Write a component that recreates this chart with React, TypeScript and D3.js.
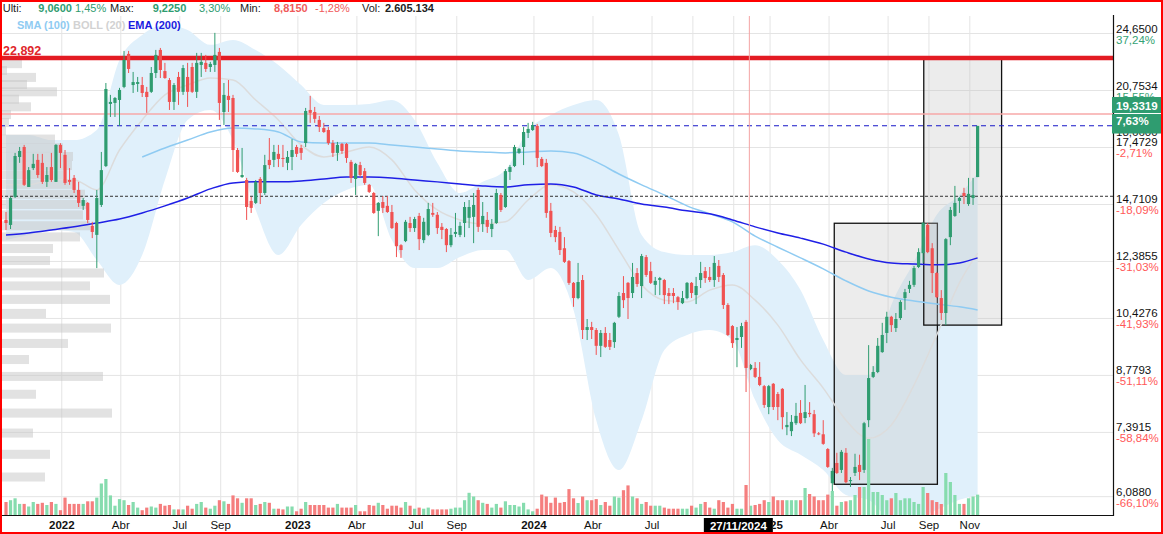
import React, { useEffect, useRef } from 'react';
import * as d3 from 'd3';

const W = 1163;
const H = 534;
const FONT = '"Liberation Sans", Arial, Helvetica, sans-serif';

// weekly bars, first bar = week of 11 Oct 2021
const firstWeek = new Date(2021, 9, 11);

// [open, high, low, close]
const ohlc: [number, number, number, number][] = [
  [14.04, 14.38, 13.62, 13.91], [13.83, 15.05, 13.66, 15.0], [15.05, 17.19, 15.0, 17.03], [16.98, 17.5, 16.68, 17.29],
  [17.5, 17.61, 15.56, 15.61], [15.51, 16.47, 15.51, 16.32], [16.42, 17.14, 16.32, 16.63], [16.83, 17.14, 15.94, 16.08],
  [16.68, 17.14, 15.65, 15.75], [15.75, 16.47, 15.51, 16.08], [16.47, 17.19, 15.75, 15.84], [15.75, 17.65, 15.75, 17.61],
  [17.61, 17.7, 16.42, 17.19], [17.09, 17.34, 15.61, 15.7], [15.84, 16.42, 15.61, 15.75], [15.94, 16.08, 15.23, 15.37],
  [15.37, 15.75, 14.6, 14.78], [14.65, 15.0, 14.47, 14.91], [14.78, 14.82, 13.91, 14.04], [13.79, 13.96, 13.29, 13.54],
  [13.42, 15.37, 12.14, 15.0], [14.69, 17.24, 14.6, 16.32], [16.52, 21.23, 16.47, 20.85], [19.93, 20.48, 19.16, 20.05],
  [19.99, 20.35, 19.16, 20.29], [20.17, 20.92, 18.65, 20.79], [20.98, 23.39, 20.9, 22.76], [23.18, 23.39, 21.88, 22.15],
  [21.1, 21.95, 20.6, 21.29], [21.17, 21.62, 20.67, 21.29], [21.1, 21.62, 20.35, 20.6], [20.67, 20.98, 19.4, 20.35],
  [20.67, 22.28, 20.6, 21.88], [21.88, 23.46, 21.55, 23.11], [23.46, 23.6, 21.55, 22.08], [22.01, 22.56, 21.5, 21.55],
  [21.42, 21.55, 19.57, 20.05], [20.05, 21.23, 19.57, 21.1], [21.62, 21.95, 19.87, 20.67], [20.67, 22.42, 20.48, 22.21],
  [21.62, 22.56, 19.75, 20.67], [22.28, 22.56, 20.6, 20.67], [20.67, 23.25, 20.29, 22.56], [22.42, 23.25, 21.62, 22.63],
  [22.56, 23.11, 21.95, 22.15], [22.28, 22.63, 21.95, 22.49], [22.42, 24.7, 21.95, 23.11], [23.32, 23.6, 18.99, 19.99],
  [19.45, 21.23, 18.7, 20.48], [20.42, 21.42, 19.45, 20.17], [20.29, 20.48, 16.23, 17.34], [17.34, 17.45, 16.18, 16.23],
  [15.98, 17.45, 15.94, 16.08], [15.84, 15.94, 14.04, 14.6], [14.87, 15.05, 14.34, 14.56], [14.78, 15.84, 14.73, 15.75],
  [15.89, 15.98, 14.73, 15.23], [15.23, 17.09, 15.14, 16.57], [16.83, 17.98, 16.37, 16.57], [16.83, 17.61, 16.47, 17.24],
  [17.14, 17.61, 16.47, 16.88], [16.93, 17.61, 16.47, 16.88], [16.68, 17.29, 16.32, 16.98], [16.98, 17.92, 16.32, 17.34],
  [17.5, 17.61, 16.98, 17.14], [17.45, 17.61, 16.83, 17.19], [17.71, 19.69, 17.5, 19.51], [19.57, 20.42, 18.82, 19.4],
  [19.45, 19.75, 18.82, 19.05], [18.99, 19.22, 18.31, 18.59], [18.53, 18.82, 18.26, 18.31], [18.42, 18.59, 17.61, 17.71],
  [17.71, 17.87, 16.98, 17.19], [17.19, 17.77, 16.78, 17.61], [17.66, 17.71, 17.14, 17.29], [17.66, 17.71, 16.68, 16.93],
  [16.73, 16.83, 15.7, 15.94], [15.89, 16.68, 15.14, 16.63], [16.57, 16.73, 15.98, 16.08], [16.27, 16.42, 15.61, 15.7],
  [15.61, 15.65, 15.23, 15.28], [15.23, 15.28, 14.3, 14.34], [14.43, 14.82, 13.37, 14.78], [14.82, 15.09, 14.34, 14.56],
  [14.65, 15.09, 14.34, 14.38], [14.38, 14.69, 13.66, 13.7], [13.91, 13.96, 12.55, 12.97], [13.01, 13.05, 12.52, 12.82],
  [13.17, 14.04, 13.13, 13.96], [13.91, 14.17, 13.54, 13.7], [13.7, 14.17, 13.54, 14.08], [14.21, 14.34, 12.82, 13.25],
  [13.21, 14.13, 13.09, 13.96], [13.42, 14.78, 13.37, 14.51], [14.34, 14.78, 14.17, 14.26], [14.26, 14.38, 13.46, 13.7],
  [13.75, 13.91, 13.25, 13.62], [13.66, 13.7, 12.74, 13.01], [13.01, 13.7, 12.93, 13.42], [13.46, 14.34, 13.33, 13.54],
  [13.42, 13.96, 13.33, 13.79], [13.91, 14.82, 13.33, 14.6], [14.13, 14.91, 13.7, 14.6], [14.17, 15.23, 13.09, 14.69],
  [15.37, 15.47, 13.54, 13.75], [13.87, 14.82, 13.54, 14.21], [14.04, 14.38, 13.5, 13.75], [13.66, 14.08, 13.33, 13.87],
  [13.91, 15.42, 13.87, 15.23], [15.14, 15.23, 14.38, 14.47], [14.6, 16.37, 14.56, 16.27], [16.23, 16.57, 15.84, 16.47],
  [16.52, 17.61, 16.47, 17.5], [17.19, 17.45, 17.14, 17.4], [17.5, 18.59, 16.57, 18.31], [18.26, 18.82, 17.98, 18.48],
  [18.42, 18.88, 18.37, 18.7], [18.65, 18.76, 16.47, 16.93], [16.88, 16.98, 16.47, 16.52], [16.68, 16.88, 14.13, 14.34],
  [14.43, 14.78, 13.33, 13.5], [13.62, 13.79, 13.13, 13.33], [13.54, 13.75, 12.63, 12.82], [12.89, 13.33, 12.33, 12.37],
  [12.4, 12.44, 11.54, 11.61], [11.61, 11.64, 10.8, 11.09], [11.09, 12.33, 11.05, 11.64], [11.71, 11.89, 9.8, 10.07],
  [10.07, 10.41, 9.77, 10.16], [10.16, 10.32, 9.8, 10.07], [10.07, 10.13, 9.34, 9.6], [9.6, 10.07, 9.28, 9.98],
  [9.98, 10.16, 9.54, 9.57], [9.77, 9.98, 9.48, 9.57], [9.71, 10.32, 9.54, 10.29], [10.48, 11.29, 10.44, 11.16],
  [11.26, 11.85, 10.76, 11.02], [11.61, 11.64, 10.41, 11.09], [11.26, 12.33, 11.09, 11.82], [11.96, 12.14, 11.47, 11.57],
  [11.5, 12.67, 11.09, 12.59], [12.55, 12.63, 11.82, 11.89], [12.03, 12.37, 11.57, 11.61], [11.54, 11.82, 11.19, 11.68],
  [11.71, 11.82, 11.19, 11.78], [11.71, 11.75, 10.89, 11.19], [11.26, 11.43, 10.89, 11.16], [11.26, 11.43, 10.92, 11.16],
  [11.12, 11.16, 10.7, 10.96], [10.92, 11.33, 10.89, 11.09], [11.09, 11.64, 11.05, 11.61], [11.61, 11.64, 11.09, 11.26],
  [11.19, 11.82, 10.89, 11.5], [11.71, 12.37, 11.43, 11.96], [12.03, 12.18, 11.61, 11.78], [11.82, 12.18, 11.64, 11.71],
  [11.71, 12.59, 11.47, 12.33], [12.22, 12.44, 11.64, 11.82], [11.89, 11.96, 10.73, 10.86], [10.86, 10.92, 9.89, 9.92],
  [10.19, 10.22, 9.54, 9.68], [9.77, 10.16, 9.0, 9.83], [9.86, 10.29, 9.54, 10.19], [10.32, 10.38, 8.35, 8.98],
  [8.95, 9.09, 8.92, 9.06], [8.98, 9.14, 8.71, 8.74], [8.74, 9.14, 8.5, 8.53], [8.5, 8.53, 7.96, 8.03],
  [7.98, 8.53, 7.81, 8.5], [8.56, 8.58, 7.91, 7.98], [8.3, 8.35, 7.67, 7.98], [8.43, 8.45, 7.46, 7.74],
  [7.51, 7.86, 7.33, 7.56], [7.42, 7.79, 7.31, 7.63], [7.6, 8.08, 7.56, 7.77], [7.84, 8.15, 7.58, 7.6],
  [7.72, 8.53, 7.6, 7.86], [7.84, 8.1, 7.74, 7.81], [7.81, 7.91, 7.29, 7.37], [7.37, 7.4, 7.33, 7.35],
  [7.35, 7.67, 7.12, 7.14], [7.03, 7.05, 6.64, 6.66], [6.34, 6.64, 6.12, 6.58], [6.74, 6.95, 6.52, 6.54],
  [6.6, 7.01, 6.54, 6.97], [6.95, 7.05, 6.34, 6.36], [6.38, 6.46, 6.27, 6.4], [6.54, 6.93, 6.48, 6.66],
  [6.7, 6.91, 6.4, 6.56], [6.6, 7.63, 6.54, 7.6], [7.67, 9.62, 7.51, 8.71], [8.74, 9.03, 8.71, 8.87],
  [8.87, 9.83, 8.84, 9.6], [9.42, 10.29, 9.4, 9.92], [9.98, 10.64, 9.68, 10.48], [10.48, 10.51, 10.01, 10.22],
  [10.13, 10.6, 10.01, 10.41], [10.44, 11.02, 10.38, 10.96], [11.09, 11.4, 10.7, 11.29], [11.4, 11.68, 11.26, 11.54],
  [11.54, 12.22, 11.47, 12.14], [12.18, 12.89, 12.14, 12.74], [12.7, 13.96, 12.33, 13.91], [13.83, 13.91, 12.7, 12.74],
  [12.89, 13.09, 11.26, 11.96], [11.96, 12.0, 11.09, 11.12], [11.09, 11.36, 10.38, 10.6], [10.6, 13.29, 10.22, 13.25],
  [13.33, 14.6, 13.01, 14.47], [14.21, 15.56, 14.17, 14.78], [14.87, 15.05, 14.34, 15.0], [15.23, 15.47, 14.73, 15.09],
  [14.73, 15.94, 14.65, 15.19], [15.0, 15.94, 14.69, 15.14], [15.98, 18.65, 15.98, 18.65],
];

// weekly volume, thousands
const volume: number[] = [
  1664, 1894, 2138, 1421, 1421, 1088, 1664, 1421, 1562, 1280, 1664, 1421, 614, 2227, 1421, 1421,
  1421, 1421, 1754, 1754, 2227, 4032, 4608, 2509, 1190, 2035, 1894, 1280, 1664, 947, 614, 947,
  1088, 947, 1421, 1190, 1280, 717, 717, 717, 1190, 806, 1421, 1664, 947, 806, 1190, 1894,
  1754, 1421, 2509, 2138, 1562, 2138, 2138, 1280, 1421, 1664, 1562, 806, 806, 717, 1088, 1088,
  474, 806, 1664, 1280, 1280, 1280, 1280, 947, 947, 1421, 947, 947, 947, 1280, 474, 474,
  1280, 1190, 1562, 1280, 806, 1190, 1190, 947, 1664, 1190, 806, 947, 806, 947, 717, 717,
  717, 717, 806, 947, 947, 1894, 2842, 2368, 1894, 1562, 1421, 947, 1421, 947, 1754, 1280,
  1280, 1088, 1562, 717, 474, 806, 2611, 2368, 1562, 2227, 1562, 1664, 3315, 2138, 1536, 2368,
  1894, 1894, 2035, 1280, 1664, 1190, 2368, 2227, 3174, 3789, 2368, 2138, 1421, 1664, 1190, 1190,
  1190, 947, 806, 806, 806, 806, 806, 1190, 947, 1421, 1664, 947, 806, 1894, 1664, 947,
  1421, 806, 806, 3840, 1190, 1280, 1421, 1894, 1664, 2368, 1894, 1894, 1894, 1894, 1894, 1894,
  3456, 2688, 2368, 1894, 1894, 2611, 3072, 1190, 1664, 1754, 1894, 2560, 3584, 3584, 9728, 2944,
  2944, 2560, 1894, 2138, 2816, 1894, 2138, 2138, 1664, 1421, 3584, 2816, 1894, 1664, 1408, 5376,
  4224, 2560, 1421, 1421, 2138, 2368, 2605,
];

// indicator samples (bar index -> value)
const lineIdx = [0, 5, 10, 15, 20, 25, 30, 35, 40, 45, 50, 55, 60, 65, 70, 75, 80, 85, 90, 95, 100, 105,
  110, 115, 120, 125, 130, 135, 140, 145, 150, 155, 160, 165, 170, 175, 180, 185, 190, 195, 200, 205, 210, 214];
const bollUpper = [18.15, 18.15, 17.87, 17.87, 18.42, 22.76, 24.55, 25.29, 24.92, 23.82, 24.18, 23.46, 22.42, 21.1,
  19.87, 19.87, 19.93, 20.17, 18.99, 16.68, 15.23, 15.75, 16.32, 18.42, 19.28, 19.87, 20.17, 18.15, 13.42, 12.74,
  12.63, 12.63, 12.74, 13.01, 12.44, 11.36, 9.77, 8.79, 8.79, 10.86, 12.37, 14.26, 15.14, 16.18];
const bollLower = [13.21, 13.42, 13.62, 13.54, 12.44, 11.54, 12.63, 15.84, 18.99, 19.57, 17.87, 14.47, 12.63, 13.83,
  14.78, 15.37, 15.61, 13.21, 12.14, 12.14, 12.55, 12.82, 12.82, 11.71, 12.14, 10.7, 7.67, 6.6, 7.67, 9.48,
  9.92, 10.07, 9.77, 8.15, 7.22, 6.91, 6.6, 6.12, 6.03, 5.7, 5.7, 5.85, 6.03, 6.12];
const bollMid = [15.61, 15.61, 15.84, 15.84, 15.37, 17.34, 18.99, 20.48, 21.1, 21.55, 21.42, 20.17, 18.99, 17.61,
  16.98, 17.24, 17.5, 16.83, 15.37, 14.47, 14.04, 13.87, 13.96, 14.91, 15.61, 15.28, 14.26, 12.82, 11.54, 11.02,
  10.96, 11.36, 11.54, 11.02, 10.22, 9.2, 8.45, 7.67, 7.26, 7.56, 8.53, 9.92, 11.61, 12.7];
const ema200 = [13.42, 13.5, 13.62, 13.75, 13.91, 14.08, 14.34, 14.65, 15.0, 15.42, 15.7, 15.75, 15.75, 15.79,
  15.89, 15.98, 15.98, 15.94, 15.84, 15.75, 15.65, 15.56, 15.51, 15.61, 15.65, 15.51, 15.14, 14.96, 14.73, 14.6,
  14.43, 14.3, 14.04, 13.75, 13.5, 13.29, 13.05, 12.74, 12.48, 12.33, 12.29, 12.26, 12.33, 12.52];
const smaIdx = lineIdx.slice(6);
const sma100 = [16.98, 17.45, 17.87, 18.31, 18.53, 18.48, 18.31, 17.77, 17.71, 17.71, 17.71, 17.61, 17.5, 17.4,
  17.29, 17.24, 17.19, 17.24, 17.29, 17.19, 16.73, 16.13, 15.61, 15.14, 14.65, 14.3, 13.96, 13.37, 12.93, 12.52,
  12.11, 11.68, 11.33, 11.12, 10.99, 10.89, 10.8, 10.7];

// volume at price profile (bucket price from 6.46, step 0.4585)
const profileBase = 6.46;
const profileStep = 0.4585;
const profileVol = [45, 50, 33, 112, 36, 103, 29, 68, 111, 46, 110, 90, 104, 50, 53, 80, 90, 83, 87, 85, 73,
  63, 72, 73, 63, 55, 6, 9, 11, 31, 19, 57, 27, 36, 7, 22];

const yTicks = [24.65, 20.7534, 17.4729, 14.7109, 12.3855, 10.4276, 8.7793, 7.3915, 6.088];
const yTickText = ['24,6500', '20,7534', '17,4729', '14,7109', '12,3855', '10,4276', '8,7793', '7,3915', '6,0880'];
const yTickPct = ['37,24%', '15,55%', '-2,71%', '-18,09%', '-31,03%', '-41,93%', '-51,11%', '-58,84%', '-66,10%'];

const xTickDates = ['2022-01-03', '2022-04-04', '2022-07-04', '2022-09-05', '2023-01-02', '2023-04-03', '2023-07-03',
  '2023-09-04', '2024-01-01', '2024-04-01', '2024-07-01', '2024-09-02', '2024-11-04', '2024-12-30', '2025-03-31',
  '2025-06-30', '2025-09-01', '2025-11-03'];
// '' = label hidden under the cursor date box
const xTickText = ['2022', 'Abr', 'Jul', 'Sep', '2023', 'Abr', 'Jul', 'Sep', '2024', 'Abr', 'Jul', 'Sep', '',
  '2025', 'Abr', 'Jul', 'Sep', 'Nov'];

const header: [string, number, 'k' | 'g' | 'r', boolean][] = [
  ['Ulti:', 2.7, 'k', false], ['9,0600', 38.3, 'g', true], ['1,45%', 75, 'g', false],
  ['Max:', 110, 'k', false], ['9,2250', 152.7, 'g', true], ['3,30%', 199, 'g', false],
  ['Min:', 240, 'k', false], ['8,8150', 274, 'r', true], ['-1,28%', 315, 'r', false],
  ['Vol:', 362, 'k', false], ['2.605.134', 385, 'k', true],
];

const resistance = 22.892;
const lastPrice = 19.3319;
const dashedLevel = 18.66;
const dottedLevel = 15.08;
const cursorDate = '2024-11-27';

const boxes = [
  { from: '2025-04-10', to: '2025-09-16', top: 13.9, bottom: 6.32 },
  { from: '2025-08-26', to: '2025-12-24', top: 22.892, bottom: 10.22 },
];

const parse = (s: string) => {
  const [a, b, c] = s.split('-').map(Number);
  return new Date(a, b - 1, c);
};

const GREEN = '#2f9c70';
const RED = '#f05252';

const App: React.FC = () => {
  const svgRef = useRef<SVGSVGElement>(null);

  useEffect(() => {
    const svg = d3.select(svgRef.current);
    svg.selectAll('*').remove();

    const right = 1113;
    const top = 16;
    const bottom = 515;
    const weekOf = (i: number) => d3.timeDay.offset(firstWeek, i * 7);

    const x = d3.scaleTime().domain([firstWeek, weekOf(214)]).range([6, 977.6]);
    const y = d3.scaleLog().domain([5.76, 25.99]).range([bottom, top]);
    const vol = d3.scaleLinear().domain([0, d3.max(volume) as number]).range([0, 76]);
    const prof = d3.scaleLinear().domain([0, d3.max(profileVol) as number]).range([0, 112]);

    svg.append('rect').attr('width', W).attr('height', H).attr('fill', '#fff');

    const defs = svg.append('defs');
    defs.append('clipPath').attr('id', 'plot-clip')
      .append('rect').attr('x', 0).attr('y', top).attr('width', right).attr('height', bottom - top);
    const g = svg.append('g').attr('clip-path', 'url(#plot-clip)');

    // grid
    yTicks.forEach((v) => {
      g.append('line').attr('x1', 0).attr('x2', right).attr('y1', y(v)).attr('y2', y(v))
        .attr('stroke', '#e4e4e4').attr('stroke-width', 1);
    });
    xTickDates.forEach((d) => {
      const xx = x(parse(d)) + 1.3;
      g.append('line').attr('x1', xx).attr('x2', xx).attr('y1', top).attr('y2', bottom)
        .attr('stroke', '#e4e4e4').attr('stroke-width', 1);
    });

    // bollinger band
    const idx = d3.range(lineIdx.length);
    const band = d3.area<number>()
      .x((i) => x(weekOf(lineIdx[i])))
      .y0((i) => y(bollLower[i]))
      .y1((i) => y(bollUpper[i]))
      .curve(d3.curveMonotoneX);
    g.append('path').datum(idx).attr('d', band).attr('fill', '#e0f0fb');

    // volume profile
    profileVol.forEach((v, k) => {
      const p = profileBase + k * profileStep;
      g.append('rect').attr('x', 0).attr('y', y(p) - 4.5).attr('width', prof(v)).attr('height', 9)
        .attr('fill', '#c6c6c6').attr('fill-opacity', 0.5);
    });

    // drawing boxes
    boxes.forEach((b) => {
      const x0 = x(parse(b.from));
      const x1 = x(parse(b.to));
      g.append('rect').attr('x', x0).attr('y', y(b.top)).attr('width', x1 - x0)
        .attr('height', y(b.bottom) - y(b.top))
        .attr('fill', '#c4c4c4').attr('fill-opacity', 0.32)
        .attr('stroke', '#111').attr('stroke-width', 1.3);
    });

    // indicator lines
    const mid = d3.line<number>().x((i) => x(weekOf(lineIdx[i]))).y((i) => y(bollMid[i])).curve(d3.curveMonotoneX);
    g.append('path').datum(idx).attr('d', mid).attr('fill', 'none').attr('stroke', '#dcdcdc').attr('stroke-width', 1.5);
    const sma = d3.line<number>().x((i) => x(weekOf(smaIdx[i]))).y((i) => y(sma100[i])).curve(d3.curveMonotoneX);
    g.append('path').datum(d3.range(smaIdx.length)).attr('d', sma).attr('fill', 'none')
      .attr('stroke', '#8fcbf2').attr('stroke-width', 1.5);
    const ema = d3.line<number>().x((i) => x(weekOf(lineIdx[i]))).y((i) => y(ema200[i])).curve(d3.curveMonotoneX);
    g.append('path').datum(idx).attr('d', ema).attr('fill', 'none').attr('stroke', '#1f1fe6').attr('stroke-width', 1.5);

    // horizontal levels
    g.append('line').attr('x1', 0).attr('x2', right).attr('y1', y(lastPrice)).attr('y2', y(lastPrice))
      .attr('stroke', '#f7a9a9').attr('stroke-width', 1.3);
    g.append('line').attr('x1', 0).attr('x2', right).attr('y1', y(dashedLevel)).attr('y2', y(dashedLevel))
      .attr('stroke', '#1717c8').attr('stroke-width', 1.2).attr('stroke-dasharray', '5,4');
    g.append('line').attr('x1', 0).attr('x2', right).attr('y1', y(dottedLevel)).attr('y2', y(dottedLevel))
      .attr('stroke', '#333').attr('stroke-width', 1).attr('stroke-dasharray', '3,2');
    g.append('line').attr('x1', 0).attr('x2', right).attr('y1', y(resistance)).attr('y2', y(resistance))
      .attr('stroke', '#e31b23').attr('stroke-width', 4.5);

    // candles
    ohlc.forEach(([o, h, l, c], i) => {
      const cx = x(weekOf(i));
      const col = c >= o ? GREEN : RED;
      g.append('line').attr('x1', cx).attr('x2', cx).attr('y1', y(h)).attr('y2', y(l))
        .attr('stroke', col).attr('stroke-width', 1);
      const yt = y(Math.max(o, c));
      const yb = y(Math.min(o, c));
      g.append('rect').attr('x', cx - 1.6).attr('y', yt).attr('width', 3.2).attr('height', Math.max(1, yb - yt))
        .attr('fill', col);
    });

    // volume bars
    volume.forEach((v, i) => {
      const cx = x(weekOf(i));
      const [o, , , c] = ohlc[i];
      g.append('rect').attr('x', cx - 1.6).attr('y', bottom - vol(v)).attr('width', 3.2).attr('height', vol(v))
        .attr('fill', c >= o ? '#86dcae' : '#f57e7e');
    });

    // cursor line
    const cxCursor = x(parse(cursorDate)) + 2;
    g.append('line').attr('x1', cxCursor).attr('x2', cxCursor).attr('y1', top).attr('y2', bottom)
      .attr('stroke', '#f4a3a3').attr('stroke-width', 1);

    // frame lines
    svg.append('line').attr('x1', 0).attr('x2', right).attr('y1', bottom + 0.5).attr('y2', bottom + 0.5)
      .attr('stroke', '#111').attr('stroke-width', 1.2);
    svg.append('line').attr('x1', right + 0.5).attr('x2', right + 0.5).attr('y1', 15).attr('y2', bottom + 1)
      .attr('stroke', '#111').attr('stroke-width', 1.2);

    // legend
    const legend = [['SMA (100)', '#8fcbf2', 17], ['BOLL (20)', '#d2d2d2', 73], ['EMA (200)', '#1a1ae0', 128]] as const;
    legend.forEach(([t, col, lx]) => {
      svg.append('text').attr('x', lx).attr('y', 28.5).attr('fill', col).style('font-family', FONT)
        .style('font-size', '11px').style('font-weight', 'bold').text(t);
    });

    svg.append('text').attr('x', 3).attr('y', y(resistance) - 3).attr('fill', '#e0262b').style('font-family', FONT)
      .style('font-size', '12.5px').style('font-weight', 'bold').text('22,892');

    // header
    const hcol = { k: '#222', g: '#2f9c70', r: '#f05a5a' };
    header.forEach(([t, hx, c, b]) => {
      svg.append('text').attr('x', hx).attr('y', 12).attr('fill', hcol[c]).style('font-family', FONT)
        .style('font-size', '11px').style('font-weight', b ? 'bold' : 'normal').text(t);
    });

    // right axis labels
    yTicks.forEach((v, k) => {
      const yy = y(v);
      svg.append('text').attr('x', 1116).attr('y', yy - 1).attr('fill', '#111').style('font-family', FONT)
        .style('font-size', '11.5px').text(yTickText[k]);
      svg.append('text').attr('x', 1116).attr('y', yy + 10).attr('fill', yTickPct[k].startsWith('-') ? '#ff5858' : '#34a274')
        .style('font-family', FONT).style('font-size', '11.5px').text(yTickPct[k]);
    });
    svg.append('text').attr('x', 1116).attr('y', y(dashedLevel) + 10).attr('fill', '#111').style('font-family', FONT)
      .style('font-size', '11.5px').text('18,6600');
    const ly = y(lastPrice);
    svg.append('rect').attr('x', 1112).attr('y', ly - 17).attr('width', 51).attr('height', 16).attr('fill', '#2f9c70');
    svg.append('rect').attr('x', 1112).attr('y', ly).attr('width', 51).attr('height', 19.5).attr('fill', '#2f9c70');
    svg.append('text').attr('x', 1116).attr('y', ly - 4).attr('fill', '#fff').style('font-family', FONT)
      .style('font-size', '11.5px').style('font-weight', 'bold').text('19,3319');
    svg.append('text').attr('x', 1116).attr('y', ly + 10.5).attr('fill', '#fff').style('font-family', FONT)
      .style('font-size', '11.5px').style('font-weight', 'bold').text('7,63%');

    // x axis labels (the cursor box hides what lies under it)
    const boxLeft = cxCursor - 45.5;
    const boxRight = boxLeft + 69;
    defs.append('clipPath').attr('id', 'xlab-clip').append('rect')
      .attr('x', boxRight).attr('y', 516).attr('width', W - boxRight).attr('height', 18);
    xTickDates.forEach((d, k) => {
      if (!xTickText[k]) return;
      const xx = x(parse(d)) + 1.3;
      const isYear = /^\d{4}$/.test(xTickText[k]);
      const t = svg.append('text').attr('x', xx).attr('y', 529).attr('text-anchor', 'middle').attr('fill', '#111')
        .style('font-family', FONT).style('font-size', '11.5px').style('font-weight', isYear ? 'bold' : 'normal')
        .text(xTickText[k]);
      if (xx - 14 < boxRight && xx + 14 > boxLeft) t.attr('clip-path', 'url(#xlab-clip)');
    });
    svg.append('rect').attr('x', boxLeft).attr('y', 518).attr('width', 69).attr('height', 15).attr('fill', '#000');
    svg.append('text').attr('x', boxLeft + 34.5).attr('y', 529.5).attr('text-anchor', 'middle').attr('fill', '#fff')
      .style('font-family', FONT).style('font-size', '11.5px').style('font-weight', 'bold').text('27/11/2024');

    // outer red frame
    svg.append('rect').attr('x', 1).attr('y', 1).attr('width', W - 2).attr('height', H - 2)
      .attr('fill', 'none').attr('stroke', '#ff0000').attr('stroke-width', 2);
  }, []);

  return (
    <div style={{ position: 'absolute', left: 0, top: 0, width: W, height: H }}>
      <svg ref={svgRef} width={W} height={H} style={{ display: 'block' }} />
    </div>
  );
};

export default App;
